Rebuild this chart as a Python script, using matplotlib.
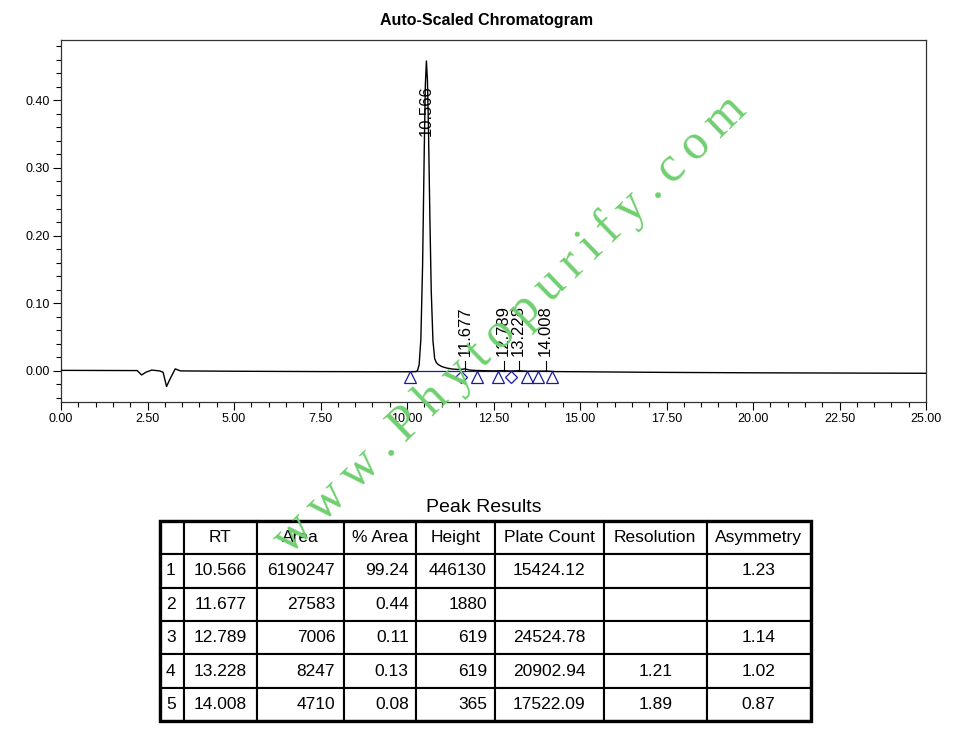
import matplotlib.pyplot as plt
from matplotlib.ticker import MultipleLocator, FormatStrFormatter
from matplotlib.patches import Rectangle

plt.rcParams['font.family'] = ['Liberation Sans', 'DejaVu Sans']

# detector trace, minutes vs AU
trace_t = [0.0, 2.2, 2.33, 2.45, 2.62, 2.85, 2.95, 3.05, 3.15, 3.3, 3.45,
           5.0, 7.5, 9.5, 10.1, 10.25, 10.3, 10.35, 10.4, 10.45, 10.5, 10.53,
           10.56, 10.59, 10.62, 10.66, 10.7, 10.75, 10.8, 10.85, 10.9, 11.0,
           11.15, 11.3, 11.45, 11.55, 11.68, 11.8, 12.0, 12.5, 12.79, 13.0,
           13.23, 13.5, 14.01, 14.3, 17.5, 20.0, 25.0]
trace_au = [0.0008, 0.0005, -0.006, -0.002, 0.0012, 0.0, -0.002, -0.023,
            -0.012, 0.003, 0.0, -0.0005, -0.001, -0.0012, -0.0012, -0.0011,
            0.0001, 0.009, 0.047, 0.156, 0.333, 0.423, 0.458, 0.430, 0.357,
            0.229, 0.118, 0.044, 0.018, 0.012, 0.0095, 0.0065, 0.0042,
            0.0028, 0.0022, 0.0022, 0.0030, 0.0013, 0.0006, 0.0, 0.0004,
            -0.0002, 0.0003, -0.0005, -0.0002, -0.0010, -0.0022, -0.0028,
            -0.0035]

# integration events
tri_t = [10.09, 12.03, 12.62, 13.46, 13.80, 14.20]
dia_t = [11.56, 13.00]

# peak table
peak_no = ['1', '2', '3', '4', '5']
rt = ['10.566', '11.677', '12.789', '13.228', '14.008']
area = ['6190247', '27583', '7006', '8247', '4710']
pct_area = ['99.24', '0.44', '0.11', '0.13', '0.08']
height = ['446130', '1880', '619', '619', '365']
plate_count = ['15424.12', '', '24524.78', '20902.94', '17522.09']
resolution = ['', '', '', '1.21', '1.89']
asymmetry = ['1.23', '', '1.14', '1.02', '0.87']
headers = ['', 'RT', 'Area', '% Area', 'Height', 'Plate Count', 'Resolution', 'Asymmetry']

fig = plt.figure(figsize=(9.64, 7.55), dpi=100)
ax = fig.add_axes([0.0633, 0.4675, 0.8973, 0.4795])

ax.plot(trace_t, trace_au, color='black', lw=1.0, zorder=3)

# baseline + event markers
ax.plot([tri_t[0], tri_t[-1]], [0, 0], color='#1a1aa0', lw=0.9, zorder=2)
ax.plot(tri_t, [-0.0095] * len(tri_t), ls='none', marker='^', ms=9,
        mfc='none', mec='#1a1aa0', mew=0.9, zorder=4)
ax.plot(dia_t, [-0.0085] * len(dia_t), ls='none', marker='D', ms=6.5,
        mfc='none', mec='#1a1aa0', mew=0.9, zorder=4)

# peak labels
for i, lab in enumerate(rt):
    x = float(lab)
    if i == 0:
        ax.text(x, 0.385, lab, rotation=90, ha='center', va='center',
                fontsize=12, zorder=5)
    else:
        ax.plot([x, x], [0, 0.014], color='black', lw=0.8)
        ax.text(x, 0.022, lab, rotation=90, ha='center', va='bottom',
                fontsize=12, zorder=5)

ax.set_xlim(0, 25)
ax.set_ylim(-0.046, 0.489)
ax.xaxis.set_major_locator(MultipleLocator(2.5))
ax.xaxis.set_minor_locator(MultipleLocator(0.5))
ax.yaxis.set_major_locator(MultipleLocator(0.1))
ax.yaxis.set_minor_locator(MultipleLocator(0.02))
ax.xaxis.set_major_formatter(FormatStrFormatter('%.2f'))
ax.yaxis.set_major_formatter(FormatStrFormatter('%.2f'))
ax.tick_params(which='major', length=6, width=0.8, labelsize=9, pad=2)
ax.tick_params(which='minor', length=3.5, width=0.8)
for s in ax.spines.values():
    s.set_linewidth(0.9)
    s.set_color('#333333')

fig.text(0.505, 0.973, 'Auto-Scaled Chromatogram', ha='center', va='center',
         fontsize=11.5, fontweight='bold')

# peak results table
tax = fig.add_axes([0.166, 0.045, 0.675, 0.265])
tax.axis('off')
rows = [list(r) for r in zip(peak_no, rt, area, pct_area, height,
                             plate_count, resolution, asymmetry)]
col_w = [24, 73, 87, 72, 79, 109, 103, 104]
tot = sum(col_w)
tbl = tax.table(cellText=rows, colLabels=headers,
                colWidths=[w / tot for w in col_w],
                bbox=[0, 0, 1, 1], cellLoc='center')
tbl.auto_set_font_size(False)
aligns = ['left', 'center', 'right', 'right', 'right', 'center', 'center', 'center']
for (r, c), cell in tbl.get_celld().items():
    cell.set_linewidth(1.5)
    cell.set_edgecolor('black')
    cell.get_text().set_fontsize(12.5)
    if r > 0:
        cell._loc = aligns[c]
        cell.get_text().set_horizontalalignment(aligns[c])
        cell.PAD = 0.1 if c != 0 else 0.25
tax.add_patch(Rectangle((0, 0), 1, 1, fill=False, lw=2.4, ec='black',
                        transform=tax.transAxes, clip_on=False))
fig.text(0.502, 0.328, 'Peak Results', ha='center', va='center', fontsize=14)

# watermark
wm = '\u2009'.join('www.Phytopurify.com')
fig.text(0.529, 0.57, wm, rotation=44, ha='center', va='center',
         fontsize=36, color='#6fcf6f',
         family=['Liberation Serif', 'DejaVu Serif'], zorder=10)

plt.savefig('out.png', dpi=100, facecolor='white')
